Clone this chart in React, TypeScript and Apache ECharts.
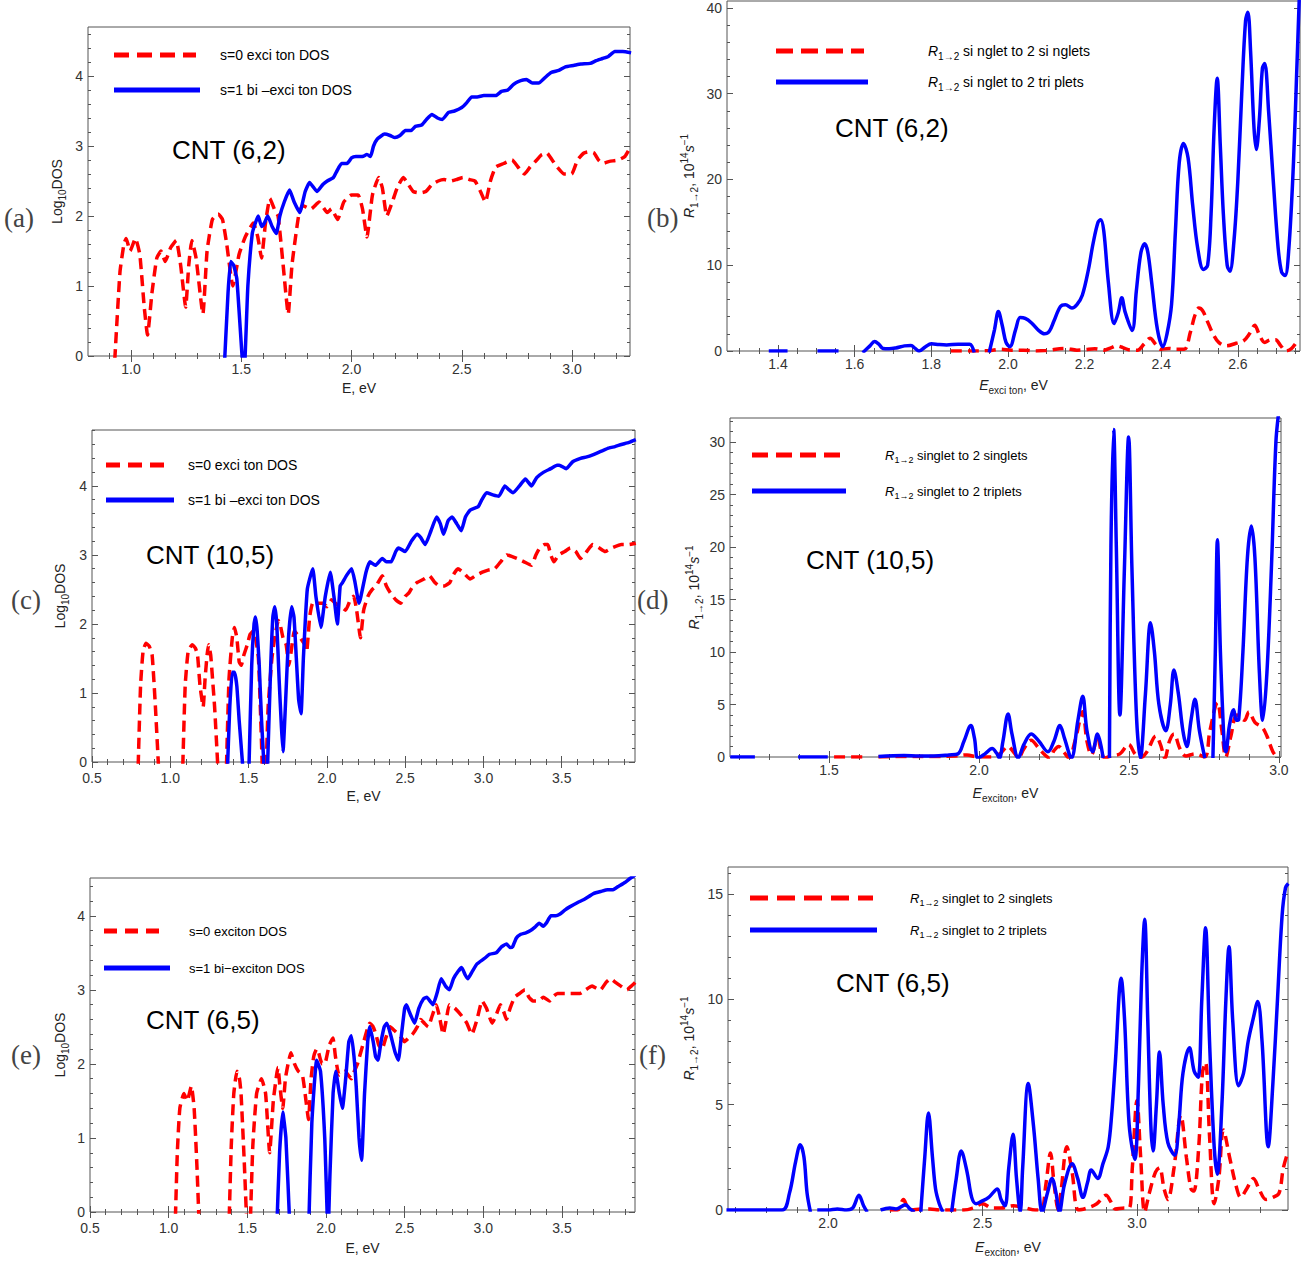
import React, { useEffect, useRef } from "react";
import * as echarts from "echarts";

const FONT = "Liberation Sans, Arial, sans-serif";
const SERIF = "Liberation Serif, DejaVu Serif, serif";
const RED = "#ff0000";
const BLUE = "#0000ff";
const TXT = "#222";

// ---------------- DATA ----------------
// (a) CNT (6,2) log10 DOS
const aS0: (number | null)[][] = [[0.922,-0.3],[0.95,1.2],[0.968,1.6],[0.978,1.68],[0.996,1.5],[1.02,1.68],[1.04,1.45],[1.06,0.7],[1.075,0.3],[1.095,0.9],[1.117,1.4],[1.136,1.5],[1.155,1.35],[1.18,1.55],[1.205,1.65],[1.225,1.3],[1.248,0.7],[1.262,1.3],[1.276,1.65],[1.295,1.4],[1.326,0.6],[1.345,1.5],[1.369,1.95],[1.395,2.03],[1.415,1.95],[1.434,1.6],[1.462,1.0],[1.49,1.45],[1.518,1.7],[1.555,1.9],[1.575,1.7],[1.592,1.4],[1.61,1.9],[1.63,2.25],[1.65,2.1],[1.667,2.0],[1.69,1.3],[1.713,0.6],[1.73,1.3],[1.76,2.0],[1.778,2.15],[1.816,2.1],[1.853,2.2],[1.89,2.05],[1.909,2.1],[1.937,1.95],[1.965,2.2],[2.0,2.3],[2.03,2.3],[2.05,2.1],[2.07,1.7],[2.095,2.3],[2.123,2.55],[2.14,2.4],[2.16,2.0],[2.185,2.2],[2.207,2.4],[2.235,2.55],[2.258,2.45],[2.28,2.35],[2.31,2.33],[2.337,2.35],[2.365,2.45],[2.393,2.5],[2.42,2.52],[2.449,2.5],[2.475,2.52],[2.505,2.55],[2.535,2.52],[2.56,2.5],[2.585,2.35],[2.607,2.2],[2.63,2.5],[2.654,2.7],[2.69,2.75],[2.728,2.8],[2.755,2.7],[2.784,2.6],[2.81,2.7],[2.84,2.8],[2.86,2.87],[2.886,2.9],[2.91,2.8],[2.933,2.7],[2.965,2.6],[2.998,2.6],[3.025,2.8],[3.054,2.9],[3.08,2.92],[3.1,2.9],[3.12,2.8],[3.138,2.75],[3.17,2.78],[3.21,2.8],[3.24,2.85],[3.268,3.0]];
const aS1: (number | null)[][] = [[1.421,-0.3],[1.44,0.9],[1.452,1.35],[1.465,1.3],[1.48,1.1],[1.512,-0.3],[1.53,1.0],[1.55,1.75],[1.564,1.9],[1.577,2.0],[1.592,1.85],[1.605,1.9],[1.62,2.0],[1.64,1.85],[1.659,1.75],[1.675,2.0],[1.695,2.2],[1.719,2.37],[1.74,2.2],[1.765,2.05],[1.79,2.35],[1.81,2.48],[1.825,2.42],[1.844,2.35],[1.87,2.45],[1.89,2.5],[1.918,2.55],[1.935,2.65],[1.955,2.75],[1.98,2.75],[2.0,2.83],[2.02,2.85],[2.05,2.85],[2.07,2.88],[2.086,2.85],[2.1,3.0],[2.117,3.1],[2.15,3.17],[2.175,3.15],[2.197,3.12],[2.22,3.15],[2.244,3.22],[2.27,3.22],[2.29,3.28],[2.318,3.3],[2.34,3.38],[2.365,3.45],[2.39,3.4],[2.412,3.38],[2.44,3.48],[2.467,3.5],[2.5,3.55],[2.523,3.62],[2.545,3.7],[2.57,3.7],[2.6,3.72],[2.63,3.72],[2.654,3.72],[2.68,3.78],[2.709,3.8],[2.735,3.88],[2.756,3.92],[2.793,3.95],[2.82,3.9],[2.849,3.9],[2.875,3.97],[2.905,4.05],[2.94,4.08],[2.97,4.13],[3.007,4.15],[3.04,4.17],[3.082,4.18],[3.11,4.22],[3.138,4.25],[3.165,4.28],[3.194,4.35],[3.23,4.35],[3.268,4.33]];

// (b) CNT (6,2) rates
const bSinglets: (number | null)[][] = [[1.851,0],[1.9,0],[1.95,0.05],[1.98,0.2],[2.01,0.1],[2.04,0.1],[2.07,0],[2.1,0.05],[2.15,0.3],[2.18,0.1],[2.2,0.15],[2.227,0.25],[2.25,0.1],[2.27,0.4],[2.283,0.6],[2.3,0.4],[2.32,0.1],[2.338,0.1],[2.355,0.8],[2.371,1.5],[2.385,0.8],[2.399,0.2],[2.42,0.3],[2.44,0.2],[2.46,0.2],[2.476,2.2],[2.488,4.2],[2.498,5.0],[2.508,4.7],[2.52,3.5],[2.535,2.0],[2.55,1.0],[2.57,0.6],[2.595,0.9],[2.615,1.2],[2.63,2.0],[2.644,3.0],[2.655,2.0],[2.67,1.0],[2.685,1.3],[2.698,1.3],[2.712,0.6],[2.725,0],[2.74,0.3],[2.758,1.4]];
const bTriplets: (number | null)[][] = [[1.376,0],[1.425,0],[1.45,null],[1.503,0],[1.558,0],[1.59,null],[1.621,-0.2],[1.64,0.6],[1.652,1.1],[1.663,0.8],[1.674,0.3],[1.69,0.25],[1.707,0.35],[1.73,0.6],[1.747,0.65],[1.758,0.3],[1.768,0],[1.785,0.5],[1.8,0.85],[1.82,0.75],[1.84,0.7],[1.87,0.8],[1.9,0.8],[1.912,-0.2],[1.93,null],[1.951,-0.2],[1.965,2.5],[1.975,4.6],[1.985,3.0],[1.995,1.0],[2.005,0.5],[2.02,2.5],[2.032,3.9],[2.045,3.8],[2.061,3.3],[2.08,2.4],[2.095,2.0],[2.108,2.3],[2.12,3.5],[2.137,5.2],[2.15,5.4],[2.167,5.0],[2.18,5.4],[2.194,6.5],[2.21,9.5],[2.222,12.5],[2.235,15],[2.242,15.3],[2.25,14],[2.262,8.0],[2.277,3.2],[2.288,4.5],[2.297,6.2],[2.306,4.5],[2.324,2.4],[2.335,7],[2.347,11.5],[2.357,12.5],[2.365,11.5],[2.375,8],[2.39,2.5],[2.404,0.5],[2.415,2.0],[2.427,5.5],[2.437,14],[2.447,22],[2.458,24.2],[2.47,22.5],[2.482,17],[2.495,12],[2.51,9.5],[2.521,10],[2.53,16],[2.538,26],[2.546,31.8],[2.554,24],[2.562,16],[2.572,10],[2.579,9.3],[2.59,13],[2.6,20],[2.61,30],[2.62,38.5],[2.626,39.5],[2.633,35],[2.642,26],[2.648,23.5],[2.656,27],[2.664,33],[2.67,33.5],[2.68,28],[2.692,20],[2.705,12],[2.714,9.2],[2.723,8.8],[2.733,12],[2.745,22],[2.753,32],[2.76,41]];

// (c) CNT (10,5) log10 DOS
const cS0: (number | null)[][] = [[0.792,-0.3],[0.81,1.1],[0.826,1.6],[0.845,1.72],[0.865,1.68],[0.884,1.55],[0.905,0.8],[0.93,-0.3],[0.96,null],[1.077,-0.3],[1.095,1.1],[1.114,1.6],[1.14,1.7],[1.16,1.65],[1.174,1.55],[1.19,1.1],[1.21,0.8],[1.222,1.2],[1.235,1.55],[1.245,1.7],[1.258,1.55],[1.27,1.2],[1.283,0.8],[1.309,-0.3],[1.33,null],[1.356,-0.3],[1.375,1.2],[1.396,1.8],[1.41,1.95],[1.425,1.8],[1.44,1.45],[1.453,1.4],[1.47,1.55],[1.492,1.7],[1.51,1.85],[1.531,1.9],[1.548,1.75],[1.563,1.5],[1.575,0.8],[1.591,-0.3],[1.6,null],[1.61,-0.3],[1.625,0.8],[1.649,1.5],[1.67,1.85],[1.69,2.05],[1.701,2.0],[1.72,1.8],[1.74,1.7],[1.757,1.4],[1.772,1.6],[1.792,1.9],[1.81,1.85],[1.83,1.8],[1.845,1.75],[1.86,1.7],[1.871,1.6],[1.89,2.1],[1.91,2.3],[1.94,2.3],[1.975,2.3],[2.0,2.25],[2.03,2.35],[2.054,2.3],[2.09,2.25],[2.12,2.2],[2.15,2.35],[2.171,2.4],[2.19,2.2],[2.215,1.8],[2.235,2.2],[2.262,2.4],[2.29,2.5],[2.315,2.55],[2.354,2.7],[2.38,2.55],[2.406,2.45],[2.44,2.35],[2.471,2.3],[2.5,2.4],[2.524,2.45],[2.55,2.55],[2.576,2.6],[2.62,2.65],[2.654,2.7],[2.69,2.6],[2.719,2.55],[2.75,2.55],[2.785,2.6],[2.81,2.72],[2.837,2.8],[2.87,2.75],[2.915,2.65],[2.95,2.7],[2.993,2.75],[3.03,2.78],[3.072,2.8],[3.11,2.9],[3.15,3.0],[3.18,2.98],[3.215,2.95],[3.26,2.9],[3.307,2.85],[3.335,3.0],[3.359,3.1],[3.39,3.15],[3.411,3.15],[3.43,3.0],[3.45,2.9],[3.48,3.0],[3.52,3.05],[3.555,3.1],[3.59,3.05],[3.62,2.95],[3.66,3.05],[3.698,3.15],[3.74,3.1],[3.777,3.05],[3.82,3.1],[3.881,3.15],[3.93,3.15],[3.973,3.17]];
const cS1: (number | null)[][] = [[1.362,-0.3],[1.38,0.8],[1.396,1.3],[1.41,1.3],[1.425,1.1],[1.44,0.6],[1.471,-0.3],[1.49,null],[1.5,-0.3],[1.52,1.4],[1.535,2.0],[1.544,2.1],[1.555,1.9],[1.568,1.4],[1.583,0.6],[1.604,-0.3],[1.61,null],[1.618,-0.3],[1.64,1.3],[1.655,2.1],[1.667,2.25],[1.68,2.0],[1.695,1.2],[1.71,0.5],[1.72,0.15],[1.735,0.8],[1.755,1.8],[1.775,2.25],[1.79,2.1],[1.805,1.5],[1.82,0.9],[1.835,0.7],[1.85,1.5],[1.875,2.5],[1.91,2.8],[1.93,2.4],[1.962,1.95],[1.99,2.4],[2.022,2.75],[2.045,2.4],[2.067,2.0],[2.085,2.55],[2.1,2.6],[2.125,2.7],[2.158,2.8],[2.18,2.6],[2.205,2.3],[2.25,2.75],[2.275,2.9],[2.31,2.85],[2.354,2.95],[2.38,2.9],[2.41,2.9],[2.44,3.05],[2.458,3.1],[2.5,3.05],[2.54,3.2],[2.576,3.3],[2.6,3.25],[2.628,3.15],[2.665,3.35],[2.701,3.55],[2.725,3.45],[2.745,3.3],[2.775,3.5],[2.8,3.55],[2.83,3.45],[2.858,3.35],[2.885,3.55],[2.915,3.65],[2.967,3.7],[2.99,3.8],[3.02,3.9],[3.06,3.87],[3.098,3.85],[3.137,4.0],[3.16,3.95],[3.189,3.9],[3.23,4.0],[3.268,4.1],[3.307,4.0],[3.34,4.12],[3.385,4.2],[3.43,4.25],[3.47,4.3],[3.484,4.3],[3.529,4.25],[3.57,4.35],[3.62,4.4],[3.66,4.42],[3.698,4.45],[3.75,4.5],[3.803,4.55],[3.84,4.57],[3.881,4.6],[3.93,4.63],[3.973,4.67]];

// (d) CNT (10,5) rates
const dSinglets: (number | null)[][] = [[1.517,0],[1.623,0],[1.65,null],[1.665,0],[1.75,0.05],[1.85,0.05],[1.92,0.1],[1.96,0.2],[1.997,0],[2.04,0],[2.07,0.3],[2.096,1.0],[2.12,0.3],[2.131,-0.1],[2.15,0.8],[2.174,1.6],[2.2,0.8],[2.22,0.2],[2.235,-0.1],[2.25,0.6],[2.266,1.0],[2.285,0.4],[2.3,-0.1],[2.32,1.5],[2.346,4.3],[2.36,1.5],[2.375,0.2],[2.395,1.8],[2.41,0.3],[2.42,-0.1],[2.44,0.1],[2.47,0.3],[2.499,1.2],[2.52,0.3],[2.538,-0.1],[2.56,0.5],[2.59,2.0],[2.605,1.2],[2.62,-0.1],[2.635,1.5],[2.65,2.2],[2.67,0.8],[2.69,0.1],[2.72,0.3],[2.753,0],[2.77,2.5],[2.795,5.2],[2.81,2.5],[2.823,0],[2.84,2.0],[2.86,4.0],[2.885,3.5],[2.9,4.3],[2.92,3.3],[2.945,2.8],[2.96,2.0],[2.98,0.5],[2.993,0]];
const dTriplets: (number | null)[][] = [[1.171,0],[1.253,0],[1.3,null],[1.397,0],[1.496,0],[1.55,null],[1.665,0.05],[1.75,0.15],[1.8,0.1],[1.85,0.1],[1.9,0.2],[1.93,0.3],[1.95,1.5],[1.973,3.0],[1.985,1.8],[1.997,-0.1],[2.02,0.3],[2.044,0.8],[2.058,0.4],[2.068,-0.1],[2.08,1.5],[2.097,4.1],[2.11,2.2],[2.131,-0.1],[2.15,1.2],[2.174,2.2],[2.2,1.5],[2.23,0.5],[2.25,1.5],[2.27,3.0],[2.285,1.8],[2.308,-0.1],[2.33,3.5],[2.346,5.8],[2.36,2.5],[2.379,0.5],[2.395,2.2],[2.414,-0.1],[2.425,null],[2.435,-0.1],[2.44,20],[2.449,31.2],[2.458,20],[2.47,4.0],[2.485,18],[2.499,30.5],[2.51,18],[2.525,4],[2.538,-0.1],[2.555,6],[2.572,12.8],[2.585,10],[2.6,5],[2.623,2.5],[2.638,5],[2.65,8.3],[2.665,6],[2.68,2.5],[2.693,1.0],[2.707,3.5],[2.72,5.5],[2.735,2.5],[2.753,-0.1],[2.77,null],[2.78,-0.1],[2.788,10],[2.795,20.7],[2.805,10],[2.818,1.0],[2.823,0.5],[2.835,3],[2.849,4.5],[2.858,3.5],[2.866,3.6],[2.88,10],[2.895,19],[2.908,22],[2.92,19],[2.935,8],[2.946,3.5],[2.96,8],[2.975,18],[2.99,30],[3.0,33]];

// (e) CNT (6,5) log10 DOS
const eS0: (number | null)[][] = [[1.04,-0.3],[1.055,0.8],[1.071,1.4],[1.097,1.6],[1.118,1.5],[1.144,1.7],[1.162,1.4],[1.18,0.6],[1.196,-0.3],[1.25,null],[1.382,-0.3],[1.398,0.9],[1.414,1.6],[1.434,1.9],[1.45,1.8],[1.46,1.6],[1.48,0.7],[1.499,-0.3],[1.508,null],[1.517,-0.3],[1.535,0.9],[1.559,1.6],[1.59,1.8],[1.616,1.6],[1.642,0.8],[1.665,1.5],[1.686,1.85],[1.695,1.95],[1.707,1.7],[1.725,1.4],[1.742,1.8],[1.759,2.0],[1.777,2.15],[1.8,2.0],[1.824,1.9],[1.85,1.85],[1.87,1.55],[1.889,1.25],[1.905,1.8],[1.922,2.1],[1.94,2.2],[1.953,2.15],[1.975,2.0],[1.992,2.0],[2.02,2.25],[2.044,2.35],[2.06,2.1],[2.083,1.85],[2.12,1.9],[2.161,1.8],[2.18,1.9],[2.2,2.0],[2.24,2.3],[2.278,2.55],[2.3,2.5],[2.317,2.4],[2.336,2.25],[2.356,2.2],[2.38,2.35],[2.408,2.5],[2.435,2.45],[2.46,2.4],[2.48,2.35],[2.499,2.3],[2.525,2.35],[2.55,2.4],[2.58,2.5],[2.602,2.6],[2.625,2.55],[2.649,2.5],[2.675,2.65],[2.701,2.8],[2.72,2.65],[2.745,2.4],[2.765,2.6],[2.784,2.8],[2.82,2.75],[2.862,2.65],[2.895,2.55],[2.927,2.4],[2.96,2.6],[2.992,2.85],[3.02,2.75],[3.056,2.55],[3.08,2.65],[3.108,2.8],[3.13,2.7],[3.147,2.6],[3.17,2.75],[3.199,2.9],[3.23,2.95],[3.264,3.0],[3.29,2.9],[3.316,2.85],[3.35,2.85],[3.381,2.9],[3.42,2.85],[3.45,2.92],[3.472,2.95],[3.52,2.95],[3.563,2.95],[3.614,2.95],[3.65,3.0],[3.692,3.05],[3.72,3.02],[3.744,3.0],[3.78,3.1],[3.809,3.15],[3.84,3.1],[3.874,3.05],[3.913,3.0],[3.94,3.05],[3.965,3.1]];
const eS1: (number | null)[][] = [[1.686,-0.3],[1.705,0.8],[1.725,1.35],[1.745,1.0],[1.772,-0.3],[1.83,null],[1.889,-0.3],[1.91,1.2],[1.941,2.05],[1.965,1.9],[1.992,1.0],[2.013,-0.3],[2.025,0.5],[2.045,1.6],[2.062,1.9],[2.085,1.6],[2.104,1.4],[2.125,1.8],[2.145,2.3],[2.161,2.38],[2.178,2.1],[2.192,1.7],[2.21,1.0],[2.226,0.7],[2.245,1.6],[2.265,2.3],[2.278,2.5],[2.3,2.3],[2.315,2.1],[2.33,2.05],[2.35,2.3],[2.37,2.5],[2.387,2.55],[2.41,2.4],[2.44,2.15],[2.46,2.05],[2.48,2.4],[2.5,2.75],[2.511,2.8],[2.53,2.7],[2.563,2.55],[2.59,2.75],[2.62,2.88],[2.641,2.9],[2.66,2.85],[2.68,2.8],[2.705,2.95],[2.732,3.15],[2.76,3.05],[2.784,3.0],[2.81,3.15],[2.84,3.25],[2.862,3.3],[2.885,3.2],[2.901,3.15],[2.93,3.25],[2.96,3.35],[3.005,3.42],[3.04,3.48],[3.082,3.5],[3.115,3.58],[3.147,3.62],[3.17,3.57],[3.186,3.58],[3.21,3.7],[3.238,3.75],[3.27,3.77],[3.3,3.8],[3.33,3.85],[3.355,3.9],[3.38,3.86],[3.4,3.9],[3.43,4.0],[3.46,4.0],[3.485,4.02],[3.52,4.08],[3.549,4.12],[3.6,4.18],[3.64,4.22],[3.7,4.3],[3.75,4.33],[3.79,4.35],[3.82,4.35],[3.86,4.4],[3.9,4.45],[3.93,4.5],[3.965,4.55]];

// (f) CNT (6,5) rates
const fSinglets: (number | null)[][] = [[2.2,0],[2.225,0],[2.244,0.5],[2.258,0.1],[2.27,0],[2.3,0.05],[2.33,0.05],[2.36,0],[2.4,0],[2.44,0],[2.47,0.1],[2.5,0.3],[2.53,0.1],[2.56,0.1],[2.6,0.2],[2.64,0.1],[2.67,0],[2.69,0],[2.705,1.2],[2.72,2.7],[2.732,1.2],[2.745,0],[2.755,1.0],[2.773,3.0],[2.79,1.8],[2.811,0],[2.84,0.1],[2.87,0.3],[2.9,0.7],[2.915,0.4],[2.93,0.05],[2.96,0.1],[2.975,0.1],[2.985,2.0],[3.0,5.2],[3.012,2.5],[3.025,-0.1],[3.04,0.8],[3.06,1.8],[3.073,2.0],[3.088,1.0],[3.1,0.5],[3.12,2.0],[3.142,4.5],[3.16,2.5],[3.175,1.0],[3.184,0.9],[3.2,3.0],[3.212,6.5],[3.222,7.0],[3.235,3.5],[3.25,0.3],[3.265,1.5],[3.28,3.8],[3.3,2.5],[3.32,1.2],[3.336,0.6],[3.355,1.0],[3.377,1.5],[3.395,1.0],[3.418,0.5],[3.44,0.6],[3.46,0.8],[3.474,2.0],[3.49,2.8]];
const fTriplets: (number | null)[][] = [[1.671,0],[1.851,0],[1.875,0.8],[1.895,2.3],[1.91,3.1],[1.922,2.5],[1.932,0.8],[1.943,-0.1],[1.955,null],[1.965,0],[2.0,0],[2.03,0.05],[2.06,0],[2.08,0.1],[2.1,0.7],[2.115,0.2],[2.127,-0.1],[2.15,null],[2.17,0],[2.2,0.1],[2.22,0.05],[2.251,0.25],[2.265,0.05],[2.28,-0.1],[2.29,null],[2.3,-0.1],[2.313,2.5],[2.325,4.6],[2.338,2.5],[2.348,1.0],[2.36,0.3],[2.372,-0.1],[2.39,null],[2.4,-0.1],[2.415,1.5],[2.431,2.8],[2.45,1.8],[2.465,0.6],[2.479,0.3],[2.495,0.4],[2.52,0.6],[2.548,1.0],[2.56,0.5],[2.573,0.2],[2.585,2.0],[2.599,3.6],[2.61,1.5],[2.622,-0.1],[2.63,2.0],[2.648,6.0],[2.665,4.0],[2.68,1.5],[2.693,-0.1],[2.71,0.8],[2.725,1.5],[2.738,0.8],[2.749,-0.1],[2.765,1.2],[2.79,2.2],[2.808,1.5],[2.825,0.6],[2.84,1.3],[2.852,1.9],[2.873,1.5],[2.89,2.2],[2.907,3.0],[2.918,4.5],[2.93,7],[2.949,11],[2.96,9],[2.975,4],[2.993,2.4],[3.005,6],[3.015,11],[3.025,13.8],[3.035,9],[3.045,4],[3.052,2.8],[3.063,5],[3.073,7.5],[3.085,5],[3.1,3.2],[3.122,2.6],[3.135,4],[3.149,6.5],[3.17,7.7],[3.185,6.6],[3.198,6.3],[3.21,10],[3.222,13.4],[3.235,8],[3.25,3],[3.26,1.7],[3.275,5],[3.288,10],[3.298,12.5],[3.31,9],[3.329,5.9],[3.345,6.5],[3.36,8],[3.375,9],[3.391,9.9],[3.405,8],[3.425,3.0],[3.44,6],[3.455,10],[3.47,14],[3.481,15.3],[3.49,15.5]];

// tick labels
const aXTicks = [1.0, 1.5, 2.0, 2.5, 3.0];
const aYTicks = [0, 1, 2, 3, 4];
const bXTicks = [1.4, 1.6, 1.8, 2.0, 2.2, 2.4, 2.6];
const bYTicks = [0, 10, 20, 30, 40];
const cXTicks = [0.5, 1.0, 1.5, 2.0, 2.5, 3.0, 3.5];
const cYTicks = [0, 1, 2, 3, 4];
const dXTicks = [1.5, 2.0, 2.5, 3.0];
const dYTicks = [0, 5, 10, 15, 20, 25, 30];
const eXTicks = [0.5, 1.0, 1.5, 2.0, 2.5, 3.0, 3.5];
const eYTicks = [0, 1, 2, 3, 4];
const fXTicks = [2.0, 2.5, 3.0];
const fYTicks = [0, 5, 10, 15];

// texts
const dosLegendOld = ["s=0 exci ton DOS", "s=1 bi \u2013exci ton DOS"];
const dosLegendNew = ["s=0 exciton DOS", "s=1 bi\u2212exciton DOS"];
const rateLegendOld = [" si nglet to 2 si nglets", " si nglet to 2 tri plets"];
const rateLegendNew = [" singlet to 2 singlets", " singlet to 2 triplets"];

// ---------------- LAYOUT ----------------
const rich = (fs: number) => ({
  n: { fontSize: fs, fontFamily: FONT, color: TXT, lineHeight: fs + 6 },
  i: { fontSize: fs, fontFamily: FONT, color: TXT, fontStyle: "italic", lineHeight: fs + 6 },
  sub: { fontSize: Math.round(fs * 0.7), fontFamily: FONT, color: TXT, verticalAlign: "bottom", lineHeight: fs },
  sup: { fontSize: Math.round(fs * 0.7), fontFamily: FONT, color: TXT, verticalAlign: "top", lineHeight: fs },
});

type Panel = {
  tag: string; left: number; top: number; width: number; height: number;
  xMin: number; xMax: number; yMin: number; yMax: number;
  xTicks: number[]; yTicks: number[]; xMinor: number; yMinor: number; xDec: number; xMargin: number;
  red: any[]; blue: any[]; smooth: number;
  xName: string; yName: string; xGap: number; yGap: number;
  legend: { x1: number; x2: number; tx: number; y1: number; y2: number; fs: number; texts: string[]; rate: boolean; dash: number[] };
  cnt: { text: string; x: number; y: number };
  label: { x: number; y: number };
};

const panels: Panel[] = [
  {
    tag: "(a)", left: 88, top: 27, width: 542, height: 329,
    xMin: 0.805, xMax: 3.263, yMin: 0, yMax: 4.7,
    xTicks: aXTicks, yTicks: aYTicks, xMinor: 0.1, yMinor: 0.2, xDec: 1, xMargin: 6,
    red: aS0, blue: aS1, smooth: 0.15,
    xName: "{n|E, eV}", yName: "{n|Log}{sub|10}{n|DOS}", xGap: 22, yGap: 21,
    legend: { x1: 114, x2: 200, tx: 220, y1: 55, y2: 90, fs: 14, texts: dosLegendOld, rate: false, dash: [15, 8] },
    cnt: { text: "CNT (6,2)", x: 172, y: 150 }, label: { x: 4, y: 218 },
  },
  {
    tag: "(b)", left: 727, top: 1, width: 573, height: 350,
    xMin: 1.267, xMax: 2.762, yMin: 0, yMax: 40.8,
    xTicks: bXTicks, yTicks: bYTicks, xMinor: 0.05, yMinor: 2, xDec: 1, xMargin: 6,
    red: bSinglets, blue: bTriplets, smooth: 0.35,
    xName: "{i|E}{sub|exci ton}{n|, eV}", yName: "{i|R}{sub|1\u21922}{n|, 10}{sup|14}{i|s}{sup|\u22121}", xGap: 24, yGap: 28,
    legend: { x1: 776, x2: 868, tx: 928, y1: 51, y2: 82, fs: 14, texts: rateLegendOld, rate: true, dash: [17, 8] },
    cnt: { text: "CNT (6,2)", x: 835, y: 128 }, label: { x: 647, y: 218 },
  },
  {
    tag: "(c)", left: 92, top: 430, width: 543, height: 332,
    xMin: 0.5, xMax: 3.968, yMin: 0, yMax: 4.81,
    xTicks: cXTicks, yTicks: cYTicks, xMinor: 0.1, yMinor: 0.2, xDec: 1, xMargin: 9,
    red: cS0, blue: cS1, smooth: 0.15,
    xName: "{n|E, eV}", yName: "{n|Log}{sub|10}{n|DOS}", xGap: 24, yGap: 22,
    legend: { x1: 106, x2: 174, tx: 188, y1: 465, y2: 500, fs: 14, texts: dosLegendOld, rate: false, dash: [14, 8] },
    cnt: { text: "CNT (10,5)", x: 146, y: 555 }, label: { x: 11, y: 600 },
  },
  {
    tag: "(d)", left: 730, top: 418, width: 551, height: 339,
    xMin: 1.17, xMax: 3.007, yMin: 0, yMax: 32.3,
    xTicks: dXTicks, yTicks: dYTicks, xMinor: 0.1, yMinor: 1, xDec: 1, xMargin: 6,
    red: dSinglets, blue: dTriplets, smooth: 0.35,
    xName: "{i|E}{sub|exciton}{n|, eV}", yName: "{i|R}{sub|1\u21922}{n|, 10}{sup|14}{i|s}{sup|\u22121}", xGap: 26, yGap: 26,
    legend: { x1: 752, x2: 846, tx: 885, y1: 455, y2: 491, fs: 13, texts: rateLegendNew, rate: true, dash: [16, 8] },
    cnt: { text: "CNT (10,5)", x: 806, y: 560 }, label: { x: 637, y: 600 },
  },
  {
    tag: "(e)", left: 90, top: 878, width: 545, height: 334,
    xMin: 0.5, xMax: 3.964, yMin: 0, yMax: 4.51,
    xTicks: eXTicks, yTicks: eYTicks, xMinor: 0.1, yMinor: 0.2, xDec: 1, xMargin: 9,
    red: eS0, blue: eS1, smooth: 0.15,
    xName: "{n|E, eV}", yName: "{n|Log}{sub|10}{n|DOS}", xGap: 26, yGap: 20,
    legend: { x1: 104, x2: 170, tx: 189, y1: 931, y2: 968, fs: 13, texts: dosLegendNew, rate: false, dash: [13, 8] },
    cnt: { text: "CNT (6,5)", x: 146, y: 1020 }, label: { x: 11, y: 1055 },
  },
  {
    tag: "(f)", left: 728, top: 867, width: 560, height: 343,
    xMin: 1.676, xMax: 3.489, yMin: 0, yMax: 16.28,
    xTicks: fXTicks, yTicks: fYTicks, xMinor: 0.1, yMinor: 1, xDec: 1, xMargin: 6,
    red: fSinglets, blue: fTriplets, smooth: 0.35,
    xName: "{i|E}{sub|exciton}{n|, eV}", yName: "{i|R}{sub|1\u21922}{n|, 10}{sup|14}{i|s}{sup|\u22121}", xGap: 27, yGap: 29,
    legend: { x1: 750, x2: 877, tx: 910, y1: 898, y2: 930, fs: 13, texts: rateLegendNew, rate: true, dash: [18, 9] },
    cnt: { text: "CNT (6,5)", x: 836, y: 983 }, label: { x: 639, y: 1055 },
  },
];

function minorValues(min: number, max: number, step: number, majors: number[]) {
  const out: number[] = [];
  const start = Math.ceil(min / step - 1e-6);
  for (let k = start; k * step <= max + 1e-9; k++) {
    const v = +(k * step).toFixed(6);
    if (!majors.some((m) => Math.abs(m - v) < step * 0.01)) out.push(v);
  }
  return out;
}

function buildOption() {
  const grid: any[] = [];
  const xAxis: any[] = [];
  const yAxis: any[] = [];
  const series: any[] = [];
  const graphic: any[] = [];

  panels.forEach((p, i) => {
    grid.push({
      left: p.left, top: p.top, width: p.width, height: p.height,
      show: true, borderColor: "#555", borderWidth: 1, backgroundColor: "transparent", containLabel: false,
    });
    const xMinorV = minorValues(p.xMin, p.xMax, p.xMinor, p.xTicks);
    const yMinorV = minorValues(p.yMin, p.yMax, p.yMinor, p.yTicks);
    const baseX = { type: "value", gridIndex: i, min: p.xMin, max: p.xMax, splitLine: { show: false }, axisLine: { show: false } };
    const baseY = { type: "value", gridIndex: i, min: p.yMin, max: p.yMax, splitLine: { show: false }, axisLine: { show: false } };
    const tick = (vals: number[], len: number) => ({ show: true, inside: true, length: len, customValues: vals, lineStyle: { color: "#555", width: 1 } });
    xAxis.push({
      ...baseX, position: "bottom",
      axisTick: tick(p.xTicks, 6),
      axisLabel: { show: true, customValues: p.xTicks, formatter: (v: number) => v.toFixed(p.xDec), fontFamily: FONT, fontSize: 14, color: "#333", margin: p.xMargin },
      name: p.xName, nameLocation: "middle", nameGap: p.xGap, nameTextStyle: { rich: rich(14) },
    });
    xAxis.push({ ...baseX, position: "bottom", axisTick: tick(xMinorV, 3), axisLabel: { show: false } });
    xAxis.push({ ...baseX, position: "top", axisTick: tick(p.xTicks, 6), axisLabel: { show: false } });
    xAxis.push({ ...baseX, position: "top", axisTick: tick(xMinorV, 3), axisLabel: { show: false } });
    yAxis.push({
      ...baseY, position: "left",
      axisTick: tick(p.yTicks, 6),
      axisLabel: { show: true, customValues: p.yTicks, formatter: (v: number) => String(v), fontFamily: FONT, fontSize: 14, color: "#333", margin: 5, lineHeight: 14 },
      name: p.yName, nameLocation: "middle", nameGap: p.yGap, nameRotate: 90, nameTextStyle: { rich: rich(14) },
    });
    yAxis.push({ ...baseY, position: "left", axisTick: tick(yMinorV, 3), axisLabel: { show: false } });
    yAxis.push({ ...baseY, position: "right", axisTick: tick(p.yTicks, 6), axisLabel: { show: false } });
    yAxis.push({ ...baseY, position: "right", axisTick: tick(yMinorV, 3), axisLabel: { show: false } });

    const names = p.legend.texts;
    series.push({
      type: "line", name: names[0], xAxisIndex: 4 * i, yAxisIndex: 4 * i, data: p.red,
      symbol: "none", showSymbol: false, smooth: p.smooth, clip: true, silent: true, connectNulls: false,
      lineStyle: { color: RED, width: 3.5, type: [11, 6] }, itemStyle: { color: RED }, z: 2,
    });
    series.push({
      type: "line", name: names[1], xAxisIndex: 4 * i, yAxisIndex: 4 * i, data: p.blue,
      symbol: "none", showSymbol: false, smooth: p.smooth, clip: true, silent: true, connectNulls: false,
      lineStyle: { color: BLUE, width: 3.5 }, itemStyle: { color: BLUE }, z: 3,
    });

    // legend
    const L = p.legend;
    graphic.push({ type: "line", shape: { x1: L.x1, y1: L.y1, x2: L.x2 - 4, y2: L.y1 }, style: { stroke: RED, lineWidth: 5, lineDash: L.dash } });
    graphic.push({ type: "line", shape: { x1: L.x1, y1: L.y2, x2: L.x2, y2: L.y2 }, style: { stroke: BLUE, lineWidth: 5 } });
    const mk = (t: string, y: number) => ({
      type: "text", x: L.tx, y,
      style: {
        text: L.rate ? `{i|R}{sub|1\u21922}{n|${t}}` : `{n|${t}}`,
        rich: rich(L.fs), verticalAlign: "middle", align: "left",
      },
    });
    graphic.push(mk(names[0], L.y1));
    graphic.push(mk(names[1], L.y2));
    // CNT label
    graphic.push({ type: "text", x: p.cnt.x, y: p.cnt.y, style: { text: p.cnt.text, fontFamily: FONT, fontSize: 26, fill: "#000", verticalAlign: "middle" } });
    // panel tag
    graphic.push({ type: "text", x: p.label.x, y: p.label.y, style: { text: p.tag, fontFamily: SERIF, fontSize: 27, fill: "#444", verticalAlign: "middle" } });
  });

  return { animation: false, backgroundColor: "#fff", grid, xAxis, yAxis, series, graphic };
}

export default function App() {
  const ref = useRef<HTMLDivElement>(null);
  useEffect(() => {
    if (!ref.current) return;
    const chart = echarts.init(ref.current, null, { renderer: "svg" });
    chart.setOption(buildOption() as any);
    return () => chart.dispose();
  }, []);
  return (
    <div
      ref={ref}
      style={{ position: "absolute", left: 0, top: 0, width: 1308, height: 1262, background: "#fff" }}
    />
  );
}
